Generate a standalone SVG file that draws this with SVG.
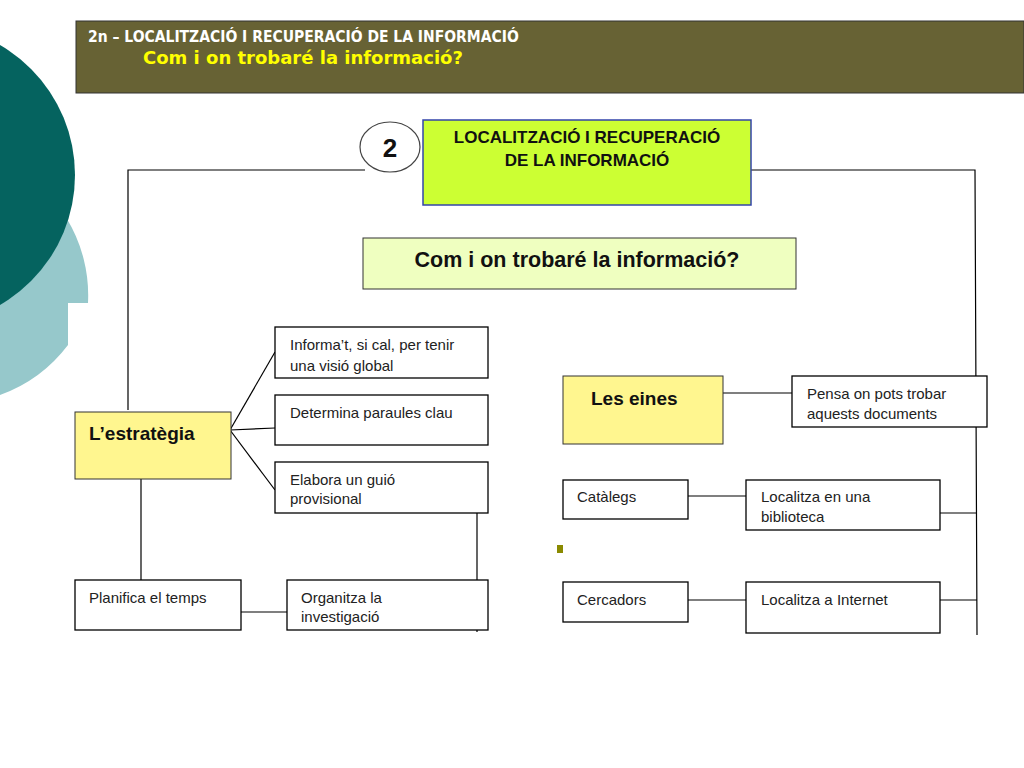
<svg xmlns="http://www.w3.org/2000/svg" width="1024" height="768" viewBox="0 0 1024 768">
<style>
.b{fill:#fff;stroke:#000;stroke-width:1.3}
.t{font-family:"Liberation Sans",Arial,sans-serif;font-size:15px;fill:#222}
.h{font-family:"Liberation Sans",Arial,sans-serif;font-weight:bold;fill:#111}
#c line,#c polyline{stroke:#000;stroke-width:1.2;fill:none}
</style>
<rect width="1024" height="768" fill="#fff"/>
<g id="deco">
<path d="M0,160 A148,148 0 0 1 88,303 L68,303 L68,345 A148,148 0 0 1 0,395 Z" fill="#96c8cb"/>
<circle cx="-75" cy="175" r="150" fill="#05635f"/>
</g>
<g id="title">
<rect x="76" y="21" width="948" height="72" fill="#676234" stroke="#333"/>
<text x="88" y="42" font-family="DejaVu Sans Condensed,DejaVu Sans,sans-serif" font-size="15.5" font-weight="bold" fill="#fff">2n – LOCALITZACIÓ I RECUPERACIÓ DE LA INFORMACIÓ</text>
<text x="143" y="64" font-family="DejaVu Sans,sans-serif" font-size="18" font-weight="bold" fill="#ffff00">Com i on trobaré la informació?</text>
</g>
<g id="c">
<polyline points="128,410 128,170 365,170"/>
<polyline points="750,170 975,170 977,635"/>
<line x1="230" y1="430" x2="275" y2="352"/>
<line x1="230" y1="430" x2="275" y2="428"/>
<line x1="230" y1="430" x2="275" y2="490"/>
<line x1="141" y1="478" x2="141" y2="580"/>
<line x1="241" y1="612" x2="288" y2="612"/>
<polyline points="488,490 477,490 477,632"/>
<line x1="722" y1="393" x2="792" y2="393"/>
<line x1="688" y1="496" x2="746" y2="496"/>
<line x1="688" y1="600" x2="746" y2="600"/>
<line x1="940" y1="513" x2="977" y2="513"/>
<line x1="940" y1="600" x2="977" y2="600"/>
<line x1="987" y1="393" x2="977" y2="393"/>
</g>
<g id="n2"><ellipse cx="390" cy="147" rx="30" ry="25" fill="#fff" stroke="#444" stroke-width="1.2"/><text x="390" y="157" class="h" font-size="26" text-anchor="middle">2</text></g>
<g id="main"><rect x="423" y="120" width="328" height="85" fill="#ccff33" stroke="#3344aa" stroke-width="1.5"/><text class="h" font-size="17" text-anchor="middle" fill="#222"><tspan x="587" y="143">LOCALITZACIÓ I RECUPERACIÓ</tspan><tspan x="587" y="166">DE  LA INFORMACIÓ</tspan></text></g>
<g id="q"><rect x="363" y="238" width="433" height="51" fill="#efffc0" stroke="#333"/><text x="577" y="267" class="h" font-size="21.5" text-anchor="middle">Com i on trobaré la informació?</text></g>
<g id="est"><rect x="75" y="412" width="156" height="67" fill="#fff68f" stroke="#333"/><text x="89" y="440" class="h" font-size="19" fill="#7a0000">L’estratègia</text></g>
<g id="n1"><rect class="b" x="275" y="327" width="213" height="51"/><text class="t"><tspan x="290" y="350">Informa’t, si cal, per tenir</tspan><tspan x="290" y="371">una visió global</tspan></text></g>
<g id="n3"><rect class="b" x="275" y="395" width="213" height="50"/><text class="t" x="290" y="418">Determina paraules clau</text></g>
<g id="n4"><rect class="b" x="275" y="462" width="213" height="51"/><text class="t"><tspan x="290" y="485">Elabora un guió</tspan><tspan x="290" y="504">provisional</tspan></text></g>
<g id="n5"><rect class="b" x="75" y="580" width="166" height="50"/><text class="t" x="89" y="603">Planifica el temps</text></g>
<g id="n6"><rect class="b" x="287" y="580" width="201" height="50"/><text class="t"><tspan x="301" y="603">Organitza la</tspan><tspan x="301" y="622">investigació</tspan></text></g>
<g id="eines"><rect x="563" y="376" width="160" height="68" fill="#fff68f" stroke="#333"/><text x="591" y="405" class="h" font-size="19" fill="#7a0000">Les eines</text></g>
<g id="n7"><rect class="b" x="792" y="376" width="195" height="51"/><text class="t"><tspan x="807" y="399">Pensa on pots trobar</tspan><tspan x="807" y="419">aquests documents</tspan></text></g>
<g id="n8"><rect class="b" x="563" y="480" width="125" height="39"/><text class="t" x="577" y="502">Catàlegs</text></g>
<g id="n9"><rect class="b" x="746" y="480" width="194" height="50"/><text class="t"><tspan x="761" y="502">Localitza en una</tspan><tspan x="761" y="522">biblioteca</tspan></text></g>
<g id="n10"><rect class="b" x="563" y="582" width="125" height="40"/><text class="t" x="577" y="605">Cercadors</text></g>
<g id="n11"><rect class="b" x="746" y="582" width="194" height="51"/><text class="t" x="761" y="605">Localitza a Internet</text></g>
<rect x="557" y="545" width="6" height="8" fill="#8a8a00"/>
</svg>
